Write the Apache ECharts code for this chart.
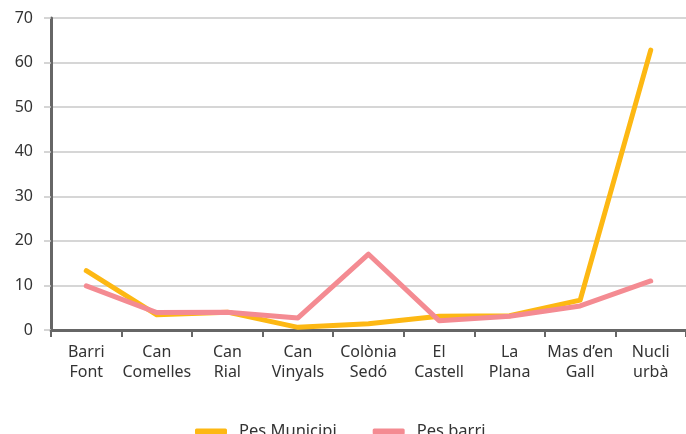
<!DOCTYPE html>
<html>
<head>
<meta charset="utf-8">
<script src="https://cdn.jsdelivr.net/npm/echarts@6/dist/echarts.min.js"></script>
<style>
  html, body { margin: 0; padding: 0; background: #fff; }
  #chart { width: 686px; height: 434px; }
</style>
</head>
<body>
<div id="chart"></div>
<script>
const categories = ['Barri\nFont', 'Can\nComelles', 'Can\nRial', 'Can\nVinyals', 'Colònia\nSedó', 'El\nCastell', 'La\nPlana', 'Mas d’en\nGall', 'Nucli\nurbà']
const pesMunicipi = [13.3, 3.4, 4.0, 0.6, 1.4, 3.1, 3.2, 6.7, 62.8]
const pesBarri = [9.9, 3.9, 4.0, 2.7, 17.0, 2.1, 3.1, 5.4, 11.0]

const chart = echarts.init(document.getElementById('chart'))
const font = 'Noto Sans'

chart.setOption({
  animation: false,
  grid: { left: 51, right: 0, top: 18, bottom: 104 },
  legend: {
    data: ['Pes Municipi', 'Pes barri'],
    top: 418,
    left: 190,
    icon: 'roundRect',
    itemWidth: 32,
    itemHeight: 6,
    itemGap: 36,
    textStyle: { fontFamily: font, fontSize: 16.5, color: '#333', padding: [0, 0, 0, 7] }
  },
  xAxis: {
    type: 'category',
    data: categories,
    boundaryGap: true,
    axisLine: { lineStyle: { color: '#666', width: 3 } },
    axisTick: { show: true, length: 7, lineStyle: { color: '#666', width: 2 } },
    axisLabel: { fontFamily: font, fontSize: 16, color: '#333', lineHeight: 20, margin: 12, interval: 0 }
  },
  yAxis: {
    type: 'value',
    min: 0,
    max: 70,
    interval: 10,
    axisLine: { show: true, lineStyle: { color: '#666', width: 3 } },
    axisTick: { show: true, length: 7, lineStyle: { color: '#c8c8c8', width: 1.5 } },
    splitLine: { lineStyle: { color: '#c8c8c8', width: 1.5 } },
    axisLabel: { fontFamily: font, fontSize: 16, color: '#333', margin: 18 }
  },
  series: [
    {
      name: 'Pes Municipi',
      type: 'line',
      data: pesMunicipi,
      symbol: 'none',
      lineStyle: { color: '#FDB813', width: 5, cap: 'round', join: 'round' },
      itemStyle: { color: '#FDB813' }
    },
    {
      name: 'Pes barri',
      type: 'line',
      data: pesBarri,
      symbol: 'none',
      lineStyle: { color: '#F48B92', width: 5, cap: 'round', join: 'round' },
      itemStyle: { color: '#F48B92' }
    }
  ]
})
</script>
</body>
</html>
